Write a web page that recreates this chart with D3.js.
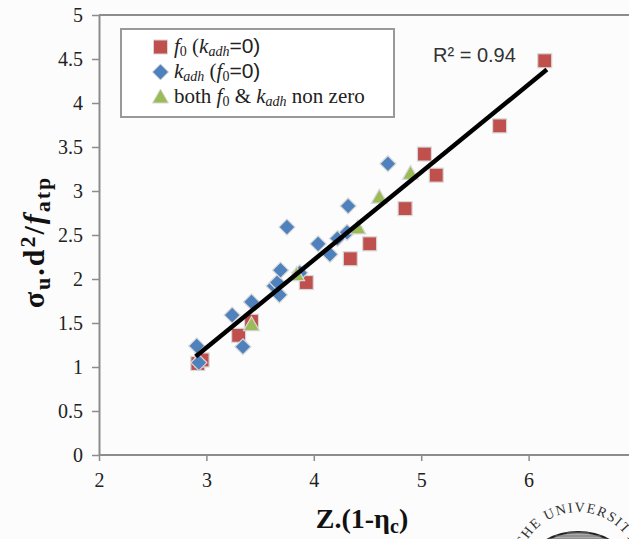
<!DOCTYPE html>
<html><head><meta charset="utf-8">
<script src="https://cdn.jsdelivr.net/npm/d3@7"></script>
<style>
html,body{margin:0;padding:0;background:#fcfcfc;}
svg{display:block;}
</style></head><body>
<svg id="chart" width="629" height="539"></svg>
<script>
// f0 only (kadh = 0)
const f0X = [2.92, 2.96, 3.30, 3.42, 3.93, 4.34, 4.52, 4.85, 5.03, 5.14, 5.73, 6.15];
const f0Y = [1.04, 1.08, 1.36, 1.52, 1.96, 2.23, 2.40, 2.80, 3.42, 3.18, 3.74, 4.48];
// kadh only (f0 = 0)
const kadhX = [2.91, 2.93, 3.24, 3.34, 3.42, 3.63, 3.66, 3.68, 3.69, 3.75, 3.87, 4.04, 4.15, 4.22, 4.31, 4.32, 4.69];
const kadhY = [1.24, 1.05, 1.59, 1.23, 1.74, 1.92, 1.96, 1.82, 2.10, 2.59, 2.07, 2.40, 2.28, 2.46, 2.53, 2.83, 3.31];
// both f0 and kadh non zero
const bothX = [3.42, 3.84, 4.41, 4.61, 4.90];
const bothY = [1.48, 2.05, 2.58, 2.93, 3.20];
// linear fit end points
const fitX = [2.90, 6.17];
const fitY = [1.12, 4.38];
const rSquared = "0.94";
const xTicks = [2, 3, 4, 5, 6];
const yTicks = [0, 0.5, 1, 1.5, 2, 2.5, 3, 3.5, 4, 4.5, 5];

const RED = "#c0504d", BLUE = "#4f81bd", GREEN = "#9bbb59";
const AXIS = "#8c8c8c";
const SERIF = "Liberation Serif, Times New Roman, DejaVu Serif, serif";
const SANS = "Liberation Sans, Arial, sans-serif";

const svg = d3.select("#chart");
const x = d3.scaleLinear().domain([2, 7]).range([99, 636]);
const y = d3.scaleLinear().domain([0, 5]).range([455, 15]);

// plot frame top edge
svg.append("line").attr("x1", x(2)).attr("x2", 629).attr("y1", y(5)).attr("y2", y(5))
  .attr("stroke", AXIS).attr("stroke-width", 2);

// axes
const fmt = d => String(d);
const gx = svg.append("g").attr("transform", `translate(0,${y(0)})`)
  .call(d3.axisBottom(x).tickValues(xTicks).tickFormat(fmt).tickSize(6).tickSizeOuter(0).tickPadding(12));
const gy = svg.append("g").attr("transform", `translate(${x(2)},0)`)
  .call(d3.axisLeft(y).tickValues(yTicks).tickFormat(fmt).tickSize(7).tickSizeOuter(0).tickPadding(9));
gx.select(".domain").attr("d", `M${x(2)},0H629`);
[gx, gy].forEach(g => {
  g.attr("font-family", SERIF).attr("font-size", 20);
  g.select(".domain").attr("stroke", AXIS).attr("stroke-width", 2);
  g.selectAll(".tick line").attr("stroke", AXIS).attr("stroke-width", 1.5);
  g.selectAll(".tick text").attr("fill", "#222")
    .attr("font-family", SERIF).style("font-family", SERIF).style("font-size", "20px");
});

// markers
const plot = svg.append("g");
const sq = 14;
plot.selectAll("rect.f0").data(d3.range(f0X.length)).join("rect")
  .attr("class", "f0")
  .attr("x", i => x(f0X[i]) - sq / 2).attr("y", i => y(f0Y[i]) - sq / 2)
  .attr("width", sq).attr("height", sq)
  .attr("fill", RED).attr("stroke", "#d8d8d8").attr("stroke-width", 1.2);

const dm = 8;
const diamond = `M0,${-dm}L${dm},0L0,${dm}L${-dm},0Z`;
plot.selectAll("path.kadh").data(d3.range(kadhX.length)).join("path")
  .attr("class", "kadh")
  .attr("transform", i => `translate(${x(kadhX[i])},${y(kadhY[i])})`)
  .attr("d", diamond)
  .attr("fill", BLUE).attr("stroke", "#d8d8d8").attr("stroke-width", 1.2);

const tri = "M0,-8L8,6L-8,6Z";
plot.selectAll("path.both").data(d3.range(bothX.length)).join("path")
  .attr("class", "both")
  .attr("transform", i => `translate(${x(bothX[i])},${y(bothY[i])})`)
  .attr("d", tri)
  .attr("fill", GREEN).attr("stroke", "#d8d8d8").attr("stroke-width", 1.2);

// fitted line
svg.append("path")
  .datum(d3.range(fitX.length))
  .attr("d", d3.line().x(i => x(fitX[i])).y(i => y(fitY[i])))
  .attr("stroke", "#000").attr("stroke-width", 4.5).attr("fill", "none");

svg.append("text").attr("x", 433).attr("y", 62)
  .attr("font-family", SANS).attr("font-size", 20).attr("fill", "#333")
  .text(`R² = ${rSquared}`);

// legend
const lg = svg.append("g");
lg.append("rect").attr("x", 121).attr("y", 29).attr("width", 273).attr("height", 88)
  .attr("fill", "#fff").attr("stroke", "#999").attr("stroke-width", 2);
lg.append("rect").attr("x", 160.5 - 7).attr("y", 47 - 7).attr("width", 14).attr("height", 14)
  .attr("fill", RED).attr("stroke", "#d8d8d8");
lg.append("path").attr("transform", "translate(160.5,72)").attr("d", diamond)
  .attr("fill", BLUE).attr("stroke", "#d8d8d8");
lg.append("path").attr("transform", "translate(160.5,97)").attr("d", tri)
  .attr("fill", GREEN).attr("stroke", "#d8d8d8");

function rich(t, parts) {
  parts.forEach(p => {
    const s = t.append("tspan").text(p.t);
    if (p.i) s.attr("font-style", "italic");
    if (p.s) s.attr("font-family", SANS);
    if (p.sub) s.attr("baseline-shift", "-3").attr("font-size", 14);
  });
}
const leg = [
  [{t: "f", i: 1}, {t: "0", sub: 1}, {t: " ("}, {t: "k", i: 1}, {t: "adh", i: 1, sub: 1}, {t: "=0)", s: 1}],
  [{t: "k", i: 1}, {t: "adh", i: 1, sub: 1}, {t: " ("}, {t: "f", i: 1}, {t: "0", sub: 1}, {t: "=0)", s: 1}],
  [{t: "both "}, {t: "f", i: 1}, {t: "0", sub: 1}, {t: " & "}, {t: "k", i: 1}, {t: "adh", i: 1, sub: 1}, {t: " non zero"}]
];
leg.forEach((parts, k) => {
  const t = lg.append("text").attr("x", 174).attr("y", 53 + k * 25)
    .attr("font-family", SERIF).attr("font-size", 21).attr("fill", "#222");
  rich(t, parts);
});

// axis titles
const xt = svg.append("text").attr("x", 362).attr("y", 528).attr("text-anchor", "middle")
  .attr("font-family", SERIF).attr("font-size", 28).attr("font-weight", "bold").attr("fill", "#111");
xt.append("tspan").text("Z.(1-η");
xt.append("tspan").text("c").attr("baseline-shift", "-25%").attr("font-size", 20);
xt.append("tspan").text(")");

const yt = svg.append("text").attr("transform", "translate(44,242) rotate(-90)").attr("text-anchor", "middle")
  .attr("font-family", SERIF).attr("font-size", 30).attr("font-weight", "bold")
  .attr("letter-spacing", 2).attr("fill", "#111");
yt.append("tspan").text("σ");
yt.append("tspan").text("u").attr("baseline-shift", "-25%").attr("font-size", 22);
yt.append("tspan").text(".d");
yt.append("tspan").text("2").attr("baseline-shift", "40%").attr("font-size", 22);
yt.append("tspan").text("/");
yt.append("tspan").text("f").attr("font-style", "italic");
yt.append("tspan").text("atp").attr("baseline-shift", "-25%").attr("font-size", 22);

// university seal, partly outside the page
const seal = svg.append("g").attr("transform", "translate(578,572)");
seal.append("defs").append("path").attr("id", "sealArc")
  .attr("d", "M-60,0A60,60 0 1,1 60,0");
seal.append("text").attr("font-family", SERIF).attr("font-size", 14).attr("fill", "#333")
  .attr("letter-spacing", 1.5)
  .append("textPath").attr("href", "#sealArc").attr("startOffset", 105).attr("text-anchor", "middle")
  .text("THE UNIVERSITY OF");
seal.append("ellipse").attr("rx", 52).attr("ry", 40).attr("fill", "#aaa").attr("stroke", "#222").attr("stroke-width", 2);
for (let k = -39; k < 40; k += 3) {
  const hw = 52 * Math.sqrt(Math.max(0, 1 - (k / 40) ** 2));
  seal.append("line").attr("x1", -hw).attr("x2", hw).attr("y1", k).attr("y2", k)
    .attr("stroke", "#777").attr("stroke-width", 1);
}
</script>
</body></html>
